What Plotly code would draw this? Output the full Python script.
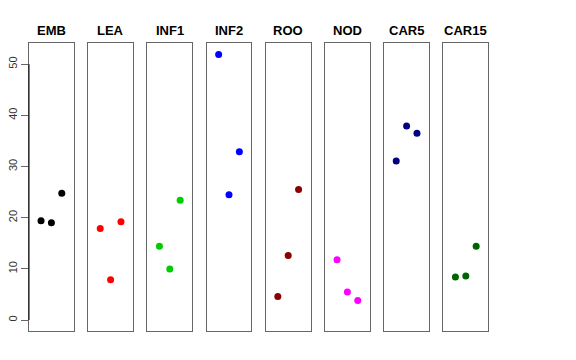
import plotly.graph_objects as go

panels = ["EMB", "LEA", "INF1", "INF2", "ROO", "NOD", "CAR5", "CAR15"]
colors = ["#000000", "#FF0000", "#00CD00", "#0000FF", "#8B0000", "#FF00FF", "#000080", "#006400"]
x_pos = [1, 2, 3]
EMB = [19.4, 19.0, 24.8]
LEA = [17.9, 7.9, 19.2]
INF1 = [14.4, 10.0, 23.4]
INF2 = [51.9, 24.5, 32.9]
ROO = [4.6, 12.6, 25.5]
NOD = [11.8, 5.5, 3.8]
CAR5 = [31.1, 37.9, 36.5]
CAR15 = [8.4, 8.6, 14.4]
values = [EMB, LEA, INF1, INF2, ROO, NOD, CAR5, CAR15]
y_ticks = [0, 10, 20, 30, 40, 50]

W, H = 576, 360
fig = go.Figure()
left0, pw, step = 29.0, 44.8, 59.2
ytop, ybot = 43.3, 330.7
ydom = [1 - ybot / H, 1 - ytop / H]
yrange = [-2.08, 54.08]

for i, (name, col, vals) in enumerate(zip(panels, colors, values)):
    xa = "x" if i == 0 else f"x{i+1}"
    ya = "y" if i == 0 else f"y{i+1}"
    fig.add_trace(go.Scatter(x=x_pos, y=vals, mode="markers",
                             marker=dict(color=col, size=7),
                             xaxis=xa, yaxis=ya, showlegend=False, hoverinfo="skip"))
    x0 = (left0 + i * step) / W
    x1 = (left0 + i * step + pw) / W
    key = "" if i == 0 else str(i + 1)
    fig.layout["xaxis" + key] = dict(domain=[x0, x1], range=[-0.16, 4.16], showticklabels=False,
                                     ticks="", showgrid=False, zeroline=False, showline=True,
                                     mirror=True, linecolor="#666666", linewidth=1,
                                     anchor=ya, fixedrange=True, automargin=False)
    yd = dict(domain=ydom, range=yrange, showgrid=False, zeroline=False, showline=True,
              mirror=True, linecolor="#666666", linewidth=1, anchor=xa, fixedrange=True,
              automargin=False)
    if i == 0:
        yd.update(tickvals=y_ticks, ticktext=[str(t) for t in y_ticks], ticks="outside",
                  ticklen=7, tickcolor="#666666", tickangle=-90,
                  tickfont=dict(family="Liberation Sans, Arial", size=11, color="#333333"))
    else:
        yd.update(showticklabels=False, ticks="")
    fig.layout["yaxis" + key] = yd
    fig.add_annotation(text=f"<b>{name}</b>", x=(x0 + x1) / 2, y=1 - 30 / H,
                       xref="paper", yref="paper", showarrow=False, xanchor="center",
                       yanchor="middle", font=dict(family="Liberation Sans, Arial", size=13, color="#000000"))

fig.add_shape(type="line", xref="paper", yref="y", x0=left0 / W, x1=left0 / W, y0=0, y1=50,
              line=dict(color="#000000", width=1))

fig.update_layout(width=W, height=H, margin=dict(l=0, r=0, t=0, b=0),
                  plot_bgcolor="white", paper_bgcolor="white")
fig.write_html("out.html", post_script="document.body.style.margin='0px';",
               config={"displayModeBar": False, "staticPlot": True})
